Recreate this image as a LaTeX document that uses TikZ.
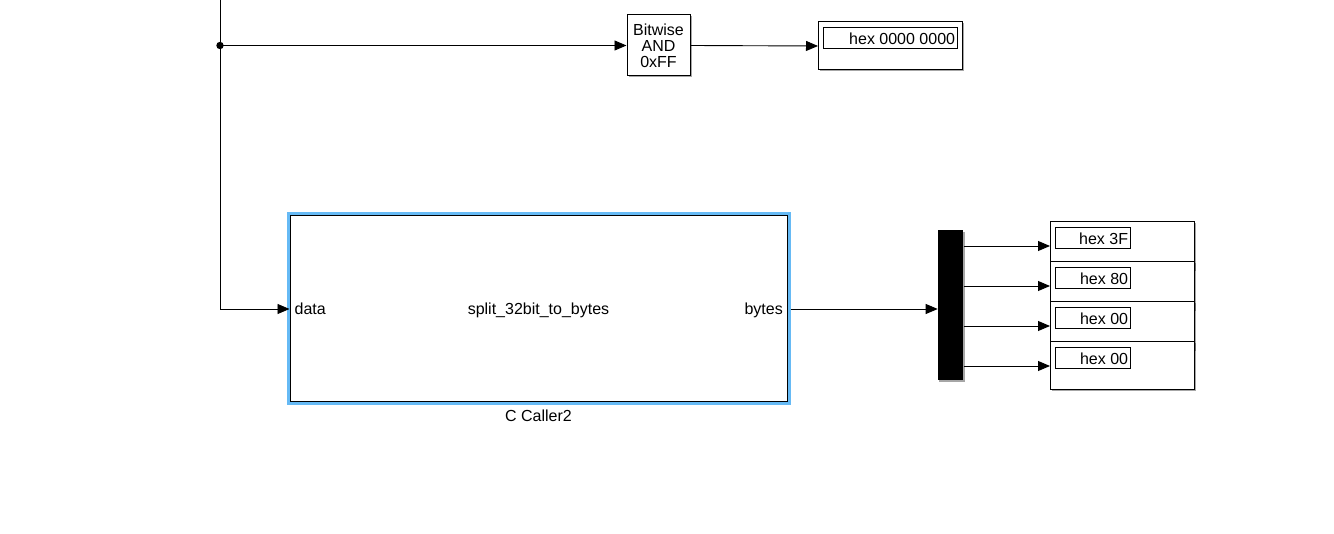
\documentclass[tikz,border=0pt]{standalone}
\usepackage{fontspec}
\setmainfont{Liberation Sans}
\usetikzlibrary{arrows.meta,shadows}
\definecolor{selblue}{RGB}{102,186,245}
\begin{document}
\begin{tikzpicture}[x=1pt,y=-1pt,
  font=\fontsize{16}{16}\selectfont,
  shad/.style={drop shadow={shadow xshift=1.5pt,shadow yshift=-1.5pt,fill=black,opacity=0.35}},
  blk/.style={draw=black, line width=1pt, fill=white, inner sep=0pt, shad},
  valbox/.style={draw=black, line width=0.8pt, fill=white, inner sep=0pt, anchor=north west, minimum height=21.5},
  valtxt/.style={anchor=east, inner sep=2.5pt, yshift=-0.5pt},
  port/.style={text height=11.5pt, text depth=3.5pt, yshift=-1.5pt},
  wire/.style={line width=0.9pt, -{Triangle[length=12pt,width=10pt]}},
  plain/.style={line width=0.9pt}
]
\useasboundingbox (0,0) rectangle (1334,534);

% blocks
\node[blk, minimum width=63, minimum height=61, align=center] (and) at (658.5,45.5) {Bitwise\\AND\\0xFF};

\node[blk, anchor=north west, minimum width=144, minimum height=48] (d0) at (818,21.5) {};
\node[valbox, minimum width=134] (d0v) at (823,27) {};
\node[valtxt] at (d0v.east) {hex 0000 0000};

\node[draw=selblue, line width=4pt, minimum width=500, minimum height=189, inner sep=0pt] (cc) at (538.5,309) {};
\node[draw=black, line width=1pt, minimum width=497, minimum height=186, inner sep=0pt] (ccin) at (538.5,309) {};
\node[port] (cctxt) at (ccin.center) {split\_32bit\_to\_bytes};
\node[port, anchor=west, inner sep=5pt] (ccdata) at (ccin.west) {data};
\node[port, anchor=east, inner sep=4.5pt] (ccbytes) at (ccin.east) {bytes};
\node[anchor=north, inner sep=3pt, yshift=-1pt] (cclab) at (cc.south) {C Caller2};

\node[fill=black, minimum width=25.5, minimum height=150, inner sep=0pt, anchor=north west, shad] (demux) at (937.7,230) {};

\foreach \i/\t/\v in {1/221.5/3F, 2/261.5/80, 3/301.5/00, 4/341.5/00}{
  \node[blk, anchor=north west, minimum width=144, minimum height=48] (d\i) at (1050,\t) {};
  \node[valbox, minimum width=75] (d\i v) at (1055,\t+5.5) {};
  \node[valtxt] at (d\i v.east) {hex \v};
}

% connectors
\coordinate (top) at (220,0);
\coordinate (j) at (top |- and.west);
\draw[plain] (top) -- (top |- ccin.west);
\draw[wire] (top |- ccin.west) -- (ccin.west);
\draw[wire] (j) -- (and.west);
\fill (j) circle (3.7);
\draw[wire] (and.east) -- (d0.west);
\draw[wire] (cc.east) -- (cc.east -| demux.west);
\foreach \i in {1,2,3,4}{
  \draw[wire] (demux.east |- d\i.west) -- (d\i.west);
}
\end{tikzpicture}
\end{document}
